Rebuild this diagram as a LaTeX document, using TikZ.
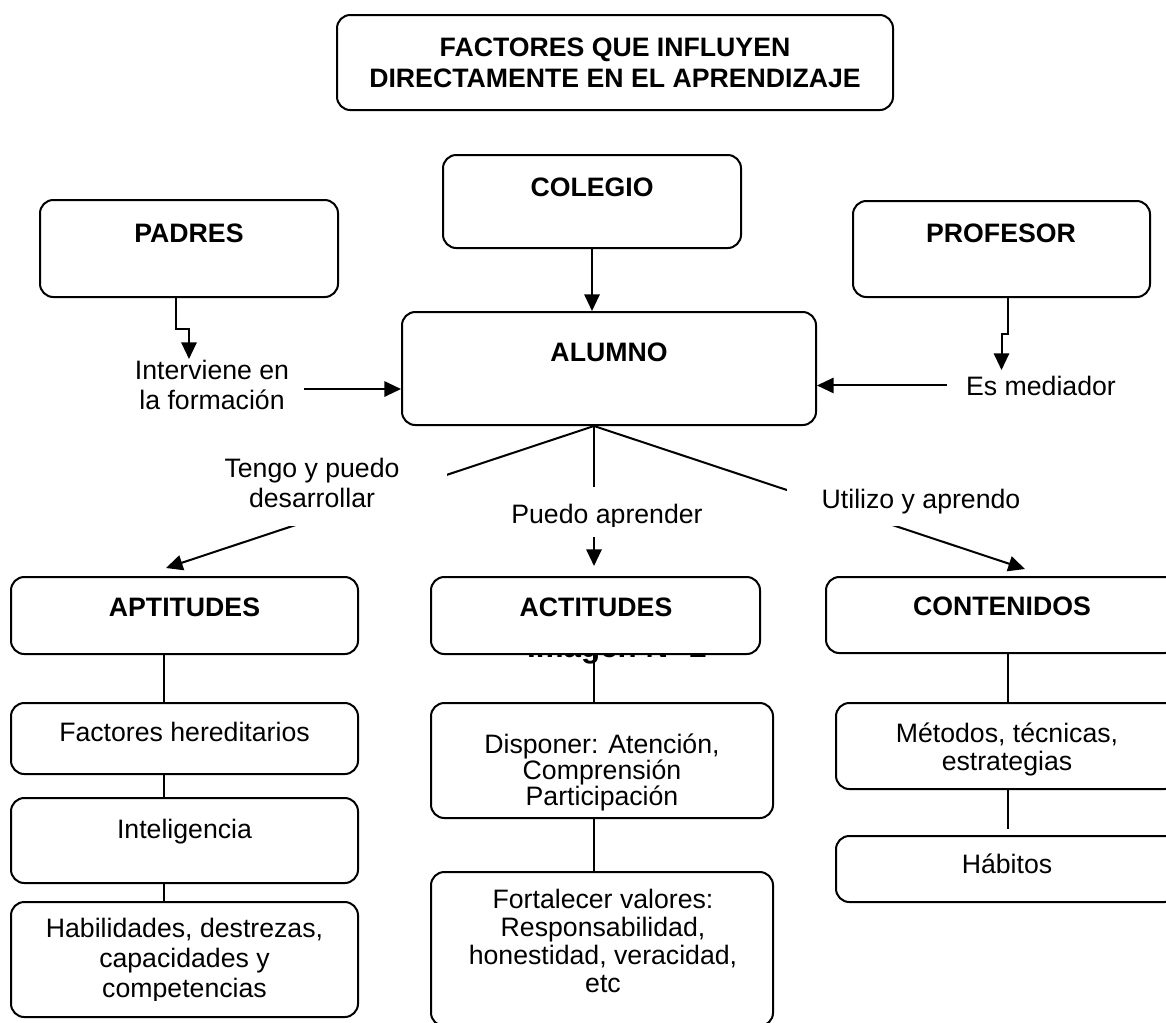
\documentclass[tikz,border=0pt]{standalone}
\usepackage{fontspec}
\setmainfont{Liberation Sans}
\usetikzlibrary{arrows.meta,fit}

\begin{document}
\begin{tikzpicture}[x=0.75pt,y=-0.75pt,
  box/.style={draw=black, line width=1.5pt, rounded corners=10pt, inner sep=0pt, fill=white},
  conn/.style={line width=1.5pt},
  arr/.style={conn, -{Triangle[length=12.5pt,width=11.5pt]}},
  txt/.style={anchor=base, inner sep=0pt, align=center, font=\fontsize{20}{22.5}\selectfont},
  btxt/.style={txt, font=\fontsize{20}{23.25}\selectfont\bfseries},
]
\clip (0,0) rectangle (1166,1022);
\fill[white] (0,0) rectangle (1166,1022);

% ---- top level (multi-line nodes are placed by their last baseline) ----
\node[box, fit={(337,15)(893,110)}] (title) {};
\node[btxt] (titleT) at (615,87) {FACTORES QUE INFLUYEN\\DIRECTAMENTE EN EL APRENDIZAJE};

\node[box, fit={(443,155)(741,248)}] (colegio) {};
\node[btxt] (colegioT) at (592,196) {COLEGIO};

\node[box, fit={(40,200)(338,297)}] (padres) {};
\node[btxt] (padresT) at (189,242) {PADRES};

\node[box, fit={(853,201)(1150,297)}] (profesor) {};
\node[btxt] (profesorT) at (1001,242) {PROFESOR};

\node[box, fit={(402,312)(816,425)}] (alumno) {};
\node[btxt] (alumnoT) at (609,361) {ALUMNO};

% ---- side influences ----
\node[txt] (interv) at (212,409) {Interviene en\\la formación};
\node[txt, inner xsep=14pt] (med) at (1041,395) {Es mediador};

\draw[arr] (colegio.south) -- (colegio.south |- alumno.north);
\draw[arr] ([xshift=-9.75pt]padres.south) -- ++(0,31) -- ++(13,0) -- ++(0,30);
\draw[arr] ([xshift=4.5pt]profesor.south) -- ++(0,36) -- ++(-6,0) -- ++(0,36);
\coordinate (intervOut) at (304,389);
\draw[arr] (intervOut) -- (alumno.west |- intervOut);
\draw[arr] (med.west) -- (alumno.east |- med.west);

% ---- branches from ALUMNO ----
\coordinate (hub) at ([xshift=-11.25pt]alumno.south);
\coordinate (tipApt) at (166,568);
\coordinate (tipAct) at (594,566);
\coordinate (tipCont) at (1025,569);
\draw[arr] (hub) -- (tipApt);
\draw[arr] (hub) -- (tipAct);
\draw[arr] (hub) -- (tipCont);

\fill[white] (177,452) rectangle (447,526);
\node[txt] (tengo) at (312,507) {Tengo y puedo\\desarrollar};
\fill[white] (500,487) rectangle (715,537);
\begin{scope}
  \clip (500,487) rectangle (715,526);
  \node[txt] (puedo) at (607,523) {Puedo aprender};
\end{scope}
\fill[white] (787,478) rectangle (1060,526);
\node[txt] (utilizo) at (921,508) {Utilizo y aprendo};

% ---- second level ----
\node[anchor=base, inner sep=0pt, font=\fontsize{23.5}{28}\selectfont\bfseries] (imgT) at (617,657) {Imagen N° 2};

\node[box, fit={(11,577)(358,654)}] (apt) {};
\node[btxt] (aptT) at (184.5,616) {APTITUDES};
\node[box, fit={(431,577)(760,654)}] (act) {};
\node[btxt] (actT) at (596,616) {ACTITUDES};
\node[box, fit={(826,577)(1178,653)}] (cont) {};
\node[btxt] (contT) at (1002,615) {CONTENIDOS};

% column 1
\node[box, fit={(11,703)(358,774)}] (fh) {};
\node[txt] (fhT) at (184.5,741) {Factores hereditarios};
\node[box, fit={(11,798)(358,883)}] (intel) {};
\node[txt] (intelT) at (184.5,838) {Inteligencia};
\node[box, fit={(11,902)(358,1017)}] (hab) {};
\begin{scope}
  \clip (11,902) rectangle (358,1000);
  \node[txt] (habT) at (184.5,997) {Habilidades, destrezas,\\capacidades y\\competencias};
\end{scope}
\draw[conn] ([xshift=-15.375pt]apt.south) -- ([xshift=-15.375pt]apt.south |- fh.north);
\draw[conn] ([xshift=-15.375pt]fh.south) -- ([xshift=-15.375pt]fh.south |- intel.north);
\draw[conn] ([xshift=-15.375pt]intel.south) -- ([xshift=-15.375pt]intel.south |- hab.north);

% column 2
\node[box, fit={(431,703)(773,818)}] (disp) {};
\node[txt, font=\fontsize{20}{19.5}\selectfont] (dispT) at (602,805) {Disponer: Atención,\\Comprensión\\Participación};
\node[box, fit={(431,872)(773,1026)}] (fort) {};
\node[txt, font=\fontsize{20}{21}\selectfont] (fortT) at (603,992) {Fortalecer valores:\\Responsabilidad,\\honestidad, veracidad,\\etc};
\draw[conn] ([xshift=-1.125pt]act.south) -- ([xshift=-1.125pt]act.south |- disp.north);
\draw[conn] ([xshift=-6pt]disp.south) -- ([xshift=-6pt]disp.south |- fort.north);

% column 3
\node[box, fit={(836,703)(1178,789)}] (met) {};
\begin{scope}
  \clip (836,703) rectangle (1178,775);
  \node[txt, font=\fontsize{20}{21}\selectfont] (metT) at (1007,770) {Métodos, técnicas,\\estrategias};
\end{scope}
\node[box, fit={(836,836)(1178,902)}] (habi) {};
\node[txt] (habiT) at (1007,873) {Hábitos};
\draw[conn] ([xshift=4.5pt]cont.south) -- ([xshift=4.5pt]cont.south |- met.north);
\draw[conn, shorten >=4.5pt] ([xshift=0.75pt]met.south) -- ([xshift=0.75pt]met.south |- habi.north);
\end{tikzpicture}
\end{document}
